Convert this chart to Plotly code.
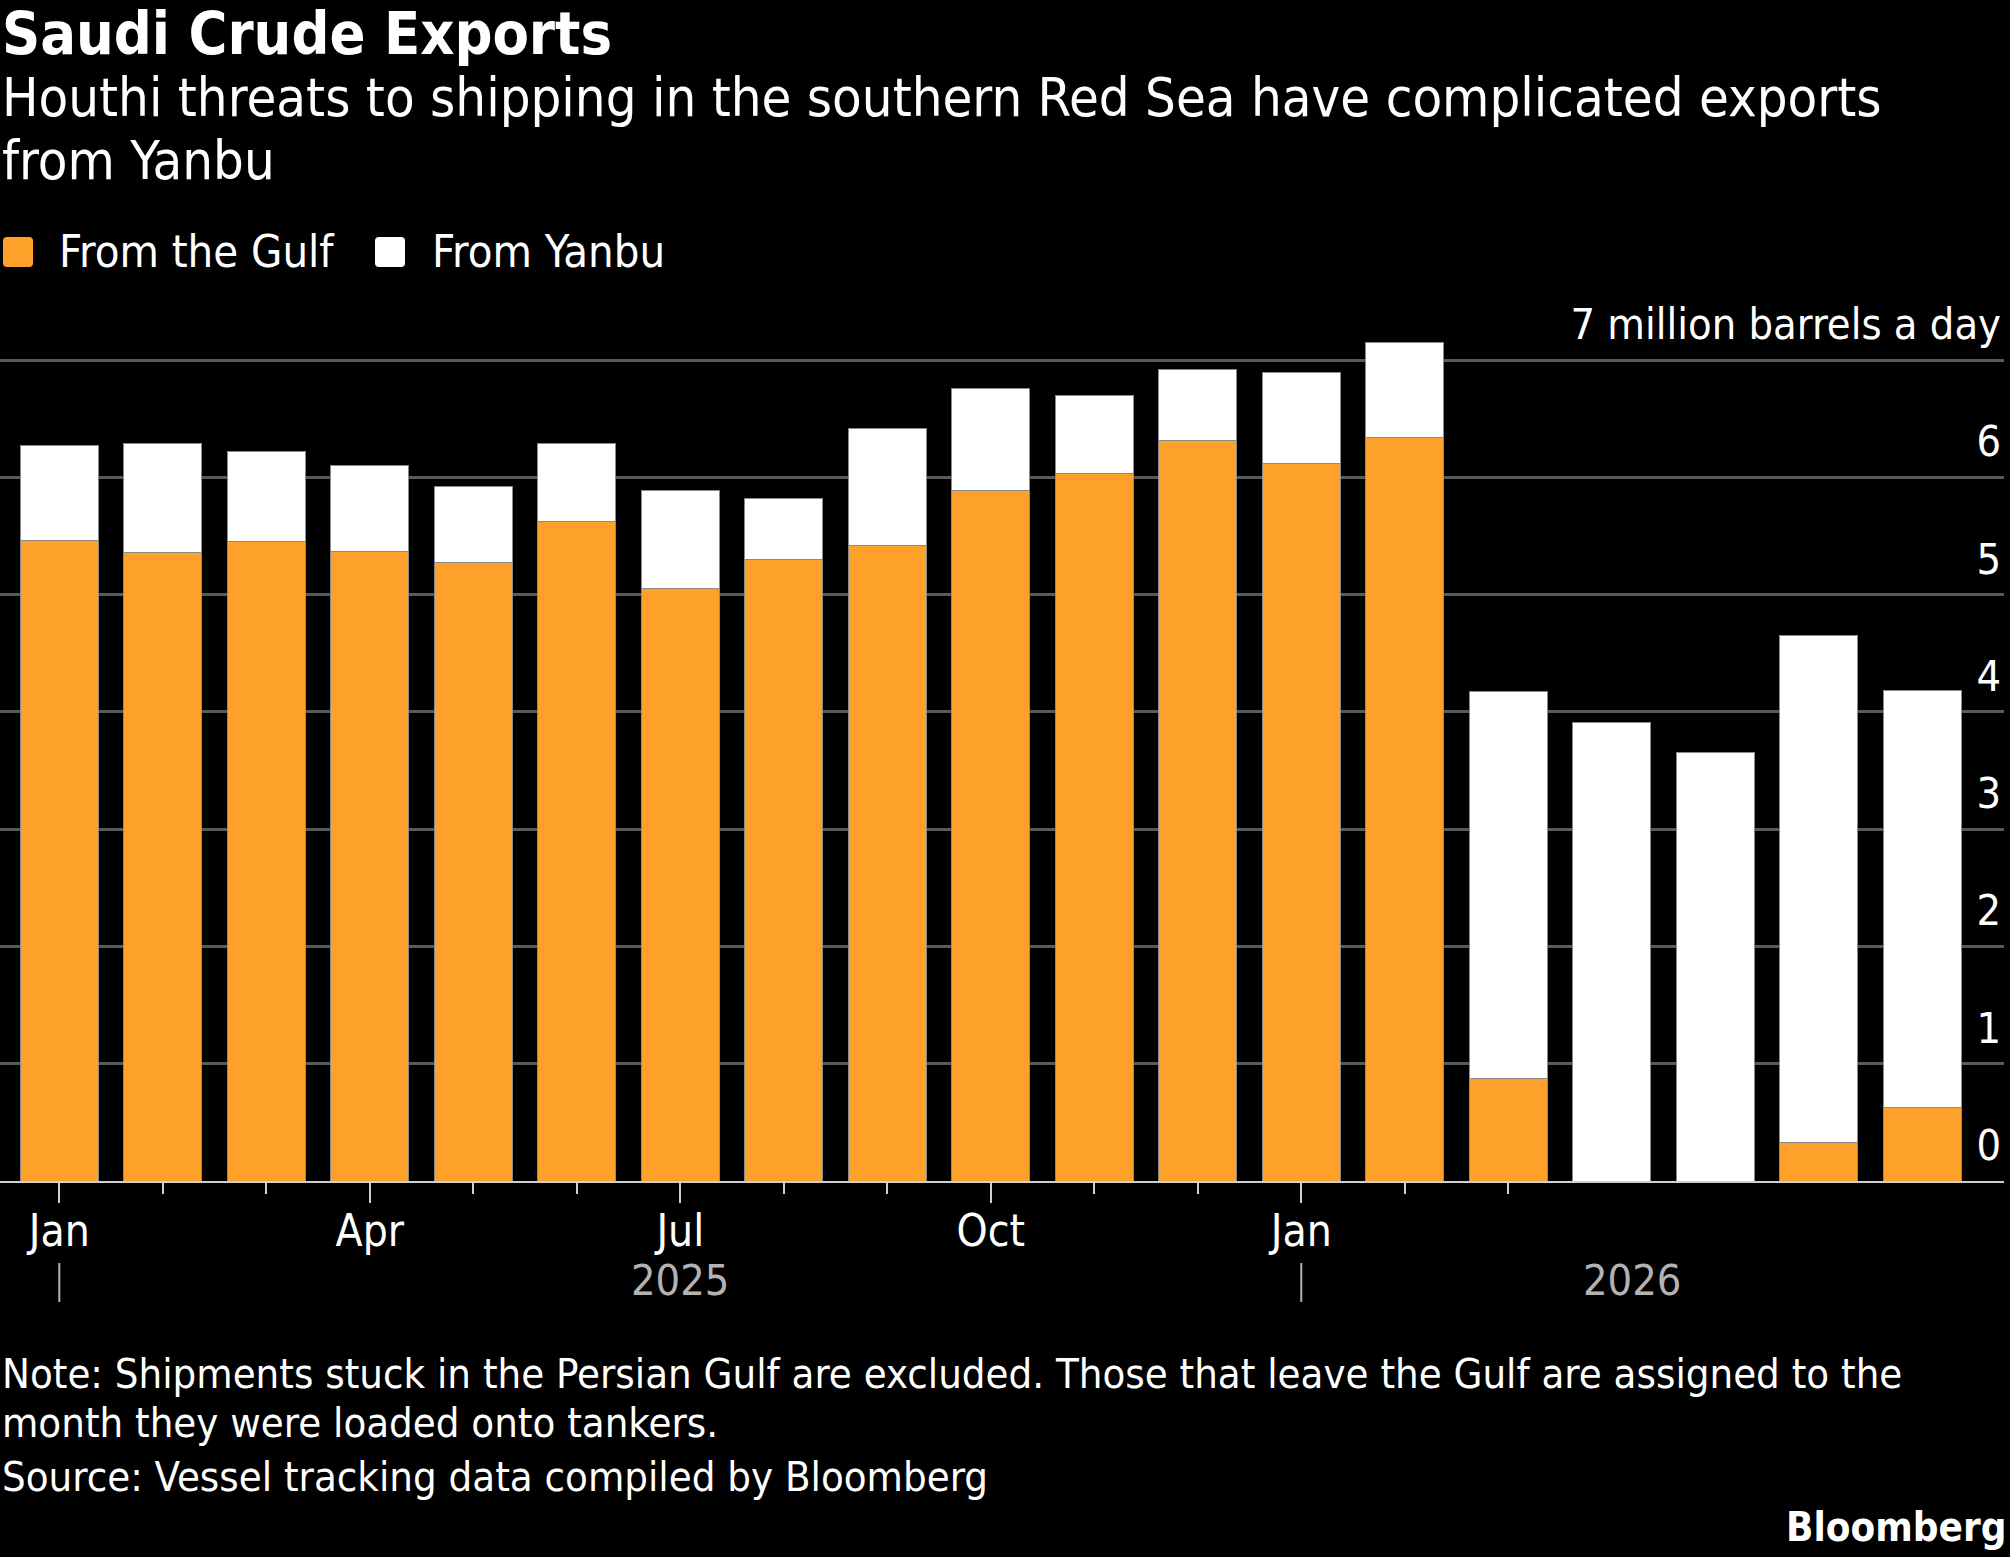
import plotly.graph_objects as go

W, H = 2010, 1557

# monthly loadings, million barrels a day
MONTHS = ["2025-01", "2025-02", "2025-03", "2025-04", "2025-05", "2025-06", "2025-07",
          "2025-08", "2025-09", "2025-10", "2025-11", "2025-12", "2026-01", "2026-02",
          "2026-03", "2026-04", "2026-05", "2026-06", "2026-07"]
GULF = [5.46, 5.36, 5.45, 5.37, 5.27, 5.62, 5.05, 5.30, 5.42, 5.89, 6.03, 6.31, 6.12, 6.34,
        0.87, 0.00, 0.00, 0.33, 0.63]
YANBU = [0.81, 0.93, 0.77, 0.73, 0.65, 0.67, 0.84, 0.52, 1.00, 0.87, 0.67, 0.61, 0.77, 0.81,
         3.30, 3.91, 3.65, 4.32, 3.55]

Y_TICKS = [0, 1, 2, 3, 4, 5, 6, 7]
Y_UNIT = "million barrels a day"
MONTH_NAMES = {"01": "Jan", "04": "Apr", "07": "Jul", "10": "Oct"}
YEARS = ["2025", "2026"]
YEAR_AT = [6, 15.2]          # where each year label sits, in months from the first bar

TITLE = "Saudi Crude Exports"
SUBTITLE = ["Houthi threats to shipping in the southern Red Sea have complicated exports",
            "from Yanbu"]
NOTE = ["Note: Shipments stuck in the Persian Gulf are excluded. Those that leave the Gulf "
        "are assigned to the",
        "month they were loaded onto tankers."]
SOURCE = "Source: Vessel tracking data compiled by Bloomberg"

ORANGE = "#FDA12B"
WHITE = "#FFFFFF"
GRID = "#5a5a5a"
FONT = "DejaVu Sans Condensed, DejaVu Sans, sans-serif"

# plot box in page pixels: the 7 gridline sits at y=360, zero at y=1181
LEFT, RIGHT, TOP, BOTTOM = 0, 2004, 290, 1181
UNIT = (BOTTOM - 360) / 7
Y_MAX = (BOTTOM - TOP) / UNIT


def px(x):
    return (x - LEFT) / (RIGHT - LEFT)


def py(y):
    return (BOTTOM - y) / (BOTTOM - TOP)


idx = list(range(len(MONTHS)))
major = [i for i, m in enumerate(MONTHS) if m[5:] in MONTH_NAMES]
major_text = [MONTH_NAMES[MONTHS[i][5:]] for i in major]
jan = [i for i, m in enumerate(MONTHS) if m.endswith("-01")]

fig = go.Figure()
fig.add_trace(go.Bar(x=idx, y=GULF, name="From the Gulf", marker_color=ORANGE,
                     marker_line=dict(color="#8a8a8a", width=1), showlegend=False))
fig.add_trace(go.Bar(x=idx, y=YANBU, name="From Yanbu", marker_color=WHITE,
                     marker_line=dict(color="#8a8a8a", width=1), showlegend=False))

notes = []


def text(s, x, y, size, bold=False, color=WHITE, xanchor="left", xref="paper"):
    notes.append(dict(text=f"<b>{s}</b>" if bold else s, x=x, y=y, xref=xref, yref="paper",
                      xanchor=xanchor, yanchor="middle", showarrow=False,
                      font=dict(family=FONT, size=size, color=color)))


text(TITLE, px(0), py(33.5), 59, bold=True)
text(SUBTITLE[0], px(0), py(97.5), 54)
text(SUBTITLE[1], px(0), py(160), 54)
text("From the Gulf", px(57), py(251), 45)
text("From Yanbu", px(430), py(251), 45)
text(NOTE[0], px(0), py(1373.5), 41.5)
text(NOTE[1], px(0), py(1422), 41.5)
text(SOURCE, px(0), py(1476), 41.5)
text("Bloomberg", px(2008), py(1527), 40, bold=True, xanchor="right")
for yr, at in zip(YEARS, YEAR_AT):
    text(yr, at, py(1280), 43, color="#b3b3b3", xanchor="center", xref="x")

# rounded legend swatches, drawn in pixels round their centre
swatch = "M-15,-11 Q-15,-15 -11,-15 L11,-15 Q15,-15 15,-11 L15,11 Q15,15 11,15 " \
         "L-11,15 Q-15,15 -15,11 Z"
shapes = []
for cx, col in [(18, ORANGE), (390, WHITE)]:
    shapes.append(dict(type="path", xref="paper", yref="paper", xsizemode="pixel",
                       ysizemode="pixel", xanchor=px(cx), yanchor=py(252), path=swatch,
                       fillcolor=col, line=dict(width=0)))
for i in jan:
    shapes.append(dict(type="line", xref="x", yref="paper", x0=i, x1=i,
                       y0=py(1263), y1=py(1302), line=dict(color="#b3b3b3", width=2)))

fig.update_layout(
    width=W, height=H, paper_bgcolor="#000000", plot_bgcolor="#000000",
    barmode="stack", bargap=0.248,
    margin=dict(l=LEFT, r=W - RIGHT, t=TOP, b=H - BOTTOM, pad=0),
    font=dict(family=FONT, color=WHITE),
    annotations=notes, shapes=shapes, showlegend=False,
)
fig.update_xaxes(
    range=[-0.573, 18.79], tickmode="array", tickvals=major, ticktext=major_text,
    ticks="outside", ticklen=20, tickwidth=2, tickcolor="#cfcfcf", ticklabelstandoff=-10,
    minor=dict(tick0=0, dtick=1, ticks="outside", ticklen=11, tickwidth=2,
               tickcolor="#cfcfcf", showgrid=False),
    showline=True, linecolor="#cfcfcf", linewidth=2, showgrid=False, zeroline=False,
    tickfont=dict(family=FONT, size=44, color=WHITE),
)
fig.update_yaxes(
    range=[0, Y_MAX], side="right", tickmode="array", tickvals=Y_TICKS,
    ticktext=[str(v) if v < Y_TICKS[-1] else f"{v} {Y_UNIT}" for v in Y_TICKS],
    ticklabelposition="inside", ticklabelshift=-36, ticks="",
    showgrid=True, gridcolor=GRID, gridwidth=3, zeroline=False, showline=False,
    tickfont=dict(family=FONT, size=43, color=WHITE),
)

fig.write_html("out.html", config={"displayModeBar": False},
               post_script="document.body.style.margin = '0';")
